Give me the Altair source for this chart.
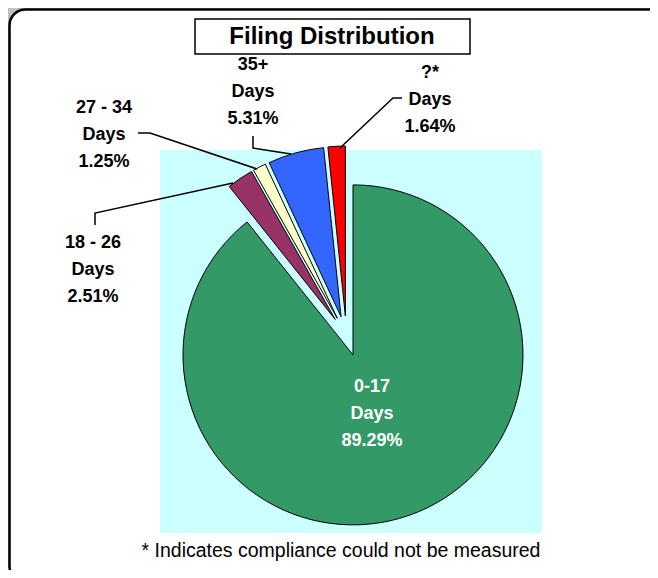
import altair as alt
import pandas as pd

# ---- data ----
categories = ["0-17 Days", "18 - 26 Days", "27 - 34 Days", "35+ Days", "?* Days"]
shares = [89.29, 2.51, 1.25, 5.31, 1.64]
slice_colors = ["#339966", "#993366", "#ffffcc", "#3366ff", "#ff0000"]
label_line1 = ["0-17", "18 - 26", "27 - 34", "35+", "?*"]
label_line2 = ["Days", "Days", "Days", "Days", "Days"]
label_line3 = ["89.29%", "2.51%", "1.25%", "5.31%", "1.64%"]
title_text = "Filing Distribution"
footnote = "* Indicates compliance could not be measured"

# ---- layout (image pixel coordinates) ----
W, H = 642, 562
CX, CY, RADIUS, EXPLODE = 346.4, 336.0, 170, 20
label_pos = [(372, 387), (93, 243), (104, 108), (253, 65), (430, 73)]
LINE_H = 27
leaders = [
    [(95, 225), (95, 213), (233, 183)],
    [(138, 133), (150, 133), (257, 169)],
    [(253, 136), (253, 148), (291, 154)],
    [(402, 98), (393, 98), (340, 148)],
]

xs = alt.Scale(domain=[8, 8 + W], nice=False, zero=False)
ys = alt.Scale(domain=[8 + H, 8], nice=False, zero=False)

def X(f):
    return alt.X(f, type="quantitative", scale=xs, axis=None)

def Y(f):
    return alt.Y(f, type="quantitative", scale=ys, axis=None)

# rectangles: frame, plot area, title box
rects = pd.DataFrame({
    "name": ["frame", "plot", "title"],
    "x": [9.5, 160, 195], "x2": [664, 542, 470],
    "y": [9.5, 150, 19], "y2": [582, 533, 54],
})
frame = alt.Chart(rects[rects.name == "frame"]).mark_rect(
    fill="white", stroke="black", strokeWidth=2.5, cornerRadius=16
).encode(x=X("x"), x2="x2", y=Y("y"), y2="y2")
plot_bg = alt.Chart(rects[rects.name == "plot"]).mark_rect(
    fill="#ccffff", strokeWidth=0
).encode(x=X("x"), x2="x2", y=Y("y"), y2="y2")
title_box = alt.Chart(rects[rects.name == "title"]).mark_rect(
    fill="white", stroke="black", strokeWidth=1.5
).encode(x=X("x"), x2="x2", y=Y("y"), y2="y2")

title = alt.Chart(pd.DataFrame({"t": [title_text], "x": [332], "y": [37]})).mark_text(
    font="Liberation Sans Narrow, Arial Narrow, Liberation Sans", fontWeight="bold",
    fontSize=24, color="black", align="center", baseline="middle"
).encode(x=X("x"), y=Y("y"), text="t:N")

# pie slices
pie_df = pd.DataFrame({"cat": categories, "share": shares, "order": range(len(shares))})
pie = alt.Chart(pie_df).transform_window(
    cum="sum(share)", sort=[alt.SortField("order")], frame=[None, 0]
).transform_calculate(
    t1="datum.cum / 100 * 2 * PI",
    t0="(datum.cum - datum.share) / 100 * 2 * PI",
).transform_calculate(
    mid="(datum.t0 + datum.t1) / 2"
).transform_calculate(
    cx=f"{CX} + {EXPLODE} * sin(datum.mid)",
    cy=f"{CY} - {EXPLODE} * cos(datum.mid)",
).mark_arc(radius=RADIUS, stroke="black", strokeWidth=1).encode(
    x=X("cx"), y=Y("cy"),
    theta=alt.Theta("t0:Q", scale=None), theta2="t1:Q",
    color=alt.Color("cat:N", scale=alt.Scale(domain=categories, range=slice_colors), legend=None),
)

# leader lines
lrows = []
for gi, pts in enumerate(leaders):
    for si, (px, py) in enumerate(pts):
        lrows.append({"g": gi, "s": si, "x": px, "y": py})
lines = alt.Chart(pd.DataFrame(lrows)).mark_line(color="black", strokeWidth=1.5).encode(
    x=X("x"), y=Y("y"), detail="g:N", order="s:Q"
)

# labels
trows = []
for i in range(len(categories)):
    lx, ly = label_pos[i]
    for k, t in enumerate([label_line1[i], label_line2[i], label_line3[i]]):
        trows.append({"t": t, "x": lx, "y": ly + k * LINE_H, "c": "white" if i == 0 else "black"})
labels = alt.Chart(pd.DataFrame(trows)).mark_text(
    font="Liberation Sans, Arial", fontWeight="bold", fontSize=18,
    align="center", baseline="middle"
).encode(x=X("x"), y=Y("y"), text="t:N", color=alt.Color("c:N", scale=None))

foot = alt.Chart(pd.DataFrame({"t": [footnote], "x": [341], "y": [551]})).mark_text(
    font="Liberation Sans, Arial", fontSize=19.5, color="black", align="center", baseline="middle"
).encode(x=X("x"), y=Y("y"), text="t:N")

chart = alt.layer(frame, plot_bg, pie, lines, title_box, title, labels, foot).properties(
    width=W, height=H, background="#c0c0c0", padding=0,
    autosize=alt.AutoSizeParams(type="none"),
).configure_view(strokeWidth=0)

chart.save("out.html", embed_options={"renderer": "svg", "actions": False})
